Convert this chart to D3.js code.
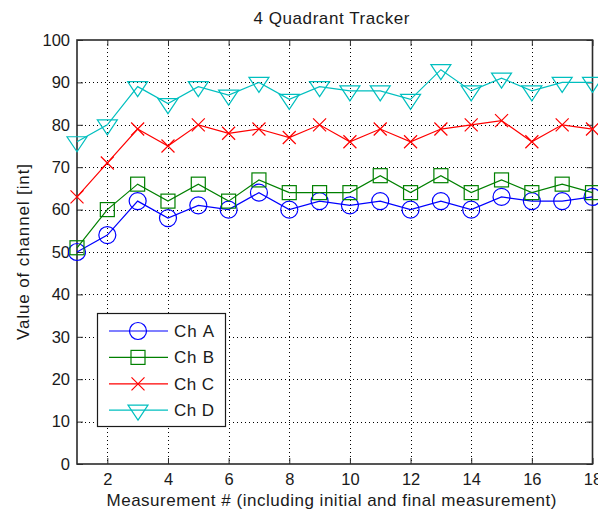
<!DOCTYPE html>
<html>
<head>
<meta charset="utf-8">
<script src="https://cdn.jsdelivr.net/npm/d3@7"></script>
<style>
  html, body { margin: 0; padding: 0; background: #fff; }
  svg { display: block; font-family: "Liberation Sans", Arial, sans-serif; }
</style>
</head>
<body>
<svg id="chart" width="598" height="513"></svg>
<script>
const measurements = d3.range(1, 19);
const chA = [50, 54, 62, 58, 61, 60, 64, 60, 62, 61, 62, 60, 62, 60, 63, 62, 62, 63];
const chB = [51, 60, 66, 62, 66, 62, 67, 64, 64, 64, 68, 64, 68, 64, 67, 64, 66, 64];
const chC = [63, 71, 79, 75, 80, 78, 79, 77, 80, 76, 79, 76, 79, 80, 81, 76, 80, 79];
const chD = [76, 80, 89, 85, 89, 87, 90, 86, 89, 88, 88, 86, 93, 88, 91, 88, 90, 90];
const seriesNames = ["Ch A", "Ch B", "Ch C", "Ch D"];
const xTicks = [2, 4, 6, 8, 10, 12, 14, 16, 18];
const yTicks = [0, 10, 20, 30, 40, 50, 60, 70, 80, 90, 100];
const titleText = "4 Quadrant Tracker";
const xLabelText = "Measurement # (including initial and final measurement)";
const yLabelText = "Value of channel [int]";

const series = [
  { name: seriesNames[0], values: chA, color: "#0000ff", marker: "circle" },
  { name: seriesNames[1], values: chB, color: "#008000", marker: "square" },
  { name: seriesNames[2], values: chC, color: "#ff0000", marker: "x" },
  { name: seriesNames[3], values: chD, color: "#00bfbf", marker: "tri" }
];

const pLeft = 77, pRight = 592.5, pTop = 40, pBottom = 464;
const x = d3.scaleLinear().domain([1, 18]).range([pLeft, pRight]);
const y = d3.scaleLinear().domain([0, 100]).range([pBottom, pTop]);

const svg = d3.select("#chart");
const axisColor = "#2b2b2b";
const textColor = "#1a1a1a";

// grid
const grid = svg.append("g");
grid.selectAll(".gx").data(xTicks.filter(t => t < 18)).enter().append("line")
  .attr("x1", d => Math.round(x(d)) + 0.5).attr("x2", d => Math.round(x(d)) + 0.5)
  .attr("y1", pTop).attr("y2", pBottom)
  .attr("stroke", "#000").attr("stroke-width", 1).attr("stroke-dasharray", "1,3");
grid.selectAll(".gy").data(yTicks.filter(t => t > 0 && t < 100)).enter().append("line")
  .attr("y1", d => Math.round(y(d)) + 0.5).attr("y2", d => Math.round(y(d)) + 0.5)
  .attr("x1", pLeft).attr("x2", pRight)
  .attr("stroke", "#000").attr("stroke-width", 1).attr("stroke-dasharray", "1,3");

// axes (ticks inward, labels outside)
const xAxisB = d3.axisBottom(x).tickValues(xTicks).tickSizeInner(-6).tickSizeOuter(0).tickPadding(9);
const xAxisT = d3.axisTop(x).tickValues(xTicks).tickSizeInner(-6).tickSizeOuter(0).tickFormat("");
const yAxisL = d3.axisLeft(y).tickValues(yTicks).tickSizeInner(-6).tickSizeOuter(0).tickPadding(7);
const yAxisR = d3.axisRight(y).tickValues(yTicks).tickSizeInner(-6).tickSizeOuter(0).tickFormat("");

function styleAxis(g) {
  g.select(".domain").remove();
  g.selectAll(".tick line").attr("stroke", axisColor).attr("stroke-width", 1);
  g.selectAll(".tick text").attr("fill", textColor).attr("font-size", 16.5)
    .attr("font-family", "'Liberation Sans', Arial, sans-serif");
}
svg.append("g").attr("transform", `translate(0,${pBottom})`).call(xAxisB).call(styleAxis);
svg.append("g").attr("transform", `translate(0,${pTop})`).call(xAxisT).call(styleAxis);
svg.append("g").attr("transform", `translate(${pLeft},0)`).call(yAxisL).call(styleAxis);
svg.append("g").attr("transform", `translate(${pRight},0)`).call(yAxisR).call(styleAxis);

svg.append("rect").attr("x", pLeft).attr("y", pTop)
  .attr("width", pRight - pLeft).attr("height", pBottom - pTop)
  .attr("fill", "none").attr("stroke", axisColor).attr("stroke-width", 1.6);

// markers
function drawMarker(g, type, color, cx, cy) {
  if (type === "circle") {
    g.append("circle").attr("cx", cx).attr("cy", cy).attr("r", 8.5)
      .attr("fill", "none").attr("stroke", color).attr("stroke-width", 1.2);
  } else if (type === "square") {
    g.append("rect").attr("x", cx - 7).attr("y", cy - 7).attr("width", 14).attr("height", 14)
      .attr("fill", "none").attr("stroke", color).attr("stroke-width", 1.2);
  } else if (type === "x") {
    const s = 6.5;
    g.append("path").attr("d", `M${cx - s},${cy - s}L${cx + s},${cy + s}M${cx - s},${cy + s}L${cx + s},${cy - s}`)
      .attr("fill", "none").attr("stroke", color).attr("stroke-width", 1.2);
  } else {
    g.append("path").attr("d", `M${cx - 10},${cy - 5}L${cx + 10},${cy - 5}L${cx},${cy + 10}Z`)
      .attr("fill", "none").attr("stroke", color).attr("stroke-width", 1.2);
  }
}

const line = d3.line().x((d, i) => x(measurements[i])).y(d => y(d));
series.forEach(s => {
  const g = svg.append("g");
  g.append("path").attr("d", line(s.values)).attr("fill", "none")
    .attr("stroke", s.color).attr("stroke-width", 1.2);
  s.values.forEach((v, i) => drawMarker(g, s.marker, s.color, x(measurements[i]), y(v)));
});

// legend
const lg = svg.append("g");
lg.append("rect").attr("x", 97.5).attr("y", 313.5).attr("width", 128).attr("height", 113)
  .attr("fill", "#fff").attr("stroke", textColor).attr("stroke-width", 1.2);
series.forEach((s, i) => {
  const ly = 331 + i * 26.4;
  lg.append("line").attr("x1", 109).attr("x2", 168).attr("y1", ly).attr("y2", ly)
    .attr("stroke", s.color).attr("stroke-width", 1.2);
  drawMarker(lg, s.marker, s.color, 138, ly);
  lg.append("text").attr("x", 174).attr("y", ly + 6).attr("font-size", 17)
    .attr("textLength", 40).attr("lengthAdjust", "spacing")
    .attr("fill", textColor).text(s.name);
});

// title and labels
svg.append("text").attr("x", 331.5).attr("y", 24).attr("text-anchor", "middle")
  .attr("font-size", 17).attr("textLength", 156).attr("lengthAdjust", "spacing")
  .attr("fill", textColor).text(titleText);
svg.append("text").attr("x", 331.5).attr("y", 506).attr("text-anchor", "middle")
  .attr("font-size", 17).attr("textLength", 450).attr("lengthAdjust", "spacing")
  .attr("fill", textColor).text(xLabelText);
svg.append("text").attr("transform", `translate(29,${(pTop + pBottom) / 2}) rotate(-90)`)
  .attr("text-anchor", "middle").attr("font-size", 17).attr("textLength", 176).attr("lengthAdjust", "spacing")
  .attr("fill", textColor).text(yLabelText);
</script>
</body>
</html>
